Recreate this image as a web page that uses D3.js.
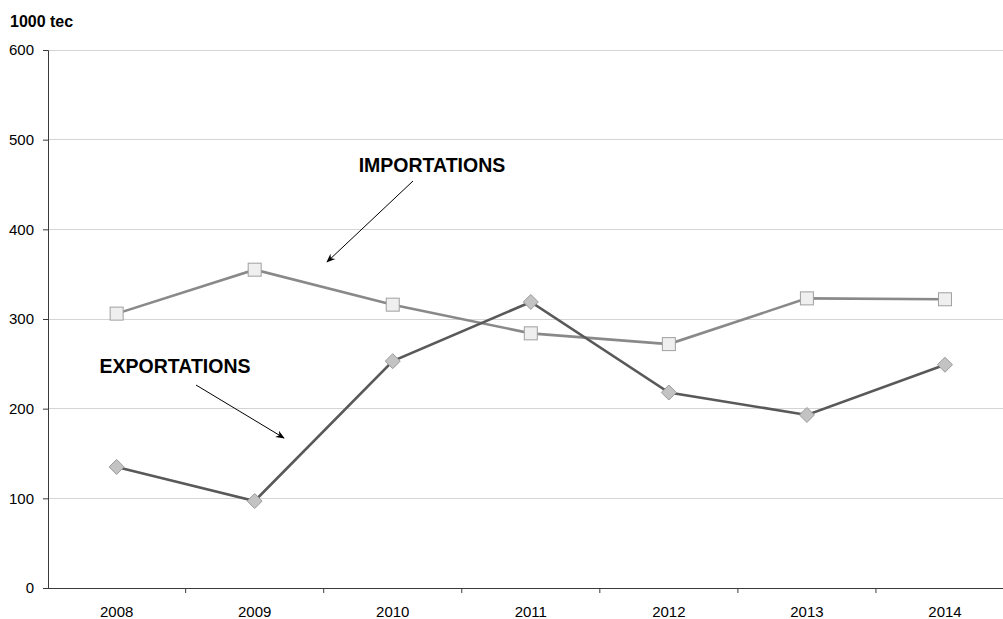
<!DOCTYPE html>
<html><head><meta charset="utf-8">
<script src="https://cdn.jsdelivr.net/npm/d3@7"></script>
<style>body{margin:0;background:#fff}svg{display:block;font-family:"Liberation Sans",Arial,sans-serif}</style>
</head><body><svg id="c" width="1003" height="619"></svg>
<script>
const years = ["2008","2009","2010","2011","2012","2013","2014"];
const importations = [306, 355, 316, 284, 272, 323, 322];
const exportations = [135, 97, 253, 319, 218, 193, 249];
const yTicks = [0, 100, 200, 300, 400, 500, 600];
const unitLabel = "1000 tec";
const importLabel = "IMPORTATIONS";
const exportLabel = "EXPORTATIONS";

const svg = d3.select("#c");
const x = d3.scaleBand().domain(years).range([47.6, 1014]).padding(0);
const y = d3.scaleLinear().domain([0, 600]).range([588, 50]);

// gridlines
svg.append("g").selectAll("line").data(yTicks.filter(d => d > 0)).join("line")
  .attr("x1", 48).attr("x2", 1003).attr("y1", d => y(d)).attr("y2", d => y(d))
  .attr("stroke", "#d4d4d4").attr("stroke-width", 1).attr("shape-rendering", "crispEdges");

// y axis
const ya = svg.append("g").attr("transform", "translate(48,0)")
  .call(d3.axisLeft(y).tickValues(yTicks).tickSize(5).tickPadding(9).tickFormat(d3.format("d")));
ya.select(".domain").attr("stroke", "#3a3a3a");
ya.selectAll(".tick line").attr("stroke", "#3a3a3a");
ya.selectAll("text").attr("font-size", "15px").attr("fill", "#000").attr("font-family", "Liberation Sans, Arial, sans-serif");

// x axis
const xa = svg.append("g").attr("transform", `translate(0,${y(0)})`)
  .call(d3.axisBottom(x).tickSize(0).tickPadding(18));
xa.select(".domain").attr("stroke", "#3a3a3a");
xa.selectAll("text").attr("font-size", "15px").attr("fill", "#000").attr("font-family", "Liberation Sans, Arial, sans-serif");
xa.selectAll("line.bound").data(years.slice(1)).join("line").attr("class", "bound")
  .attr("x1", d => x(d)).attr("x2", d => x(d)).attr("y1", 0).attr("y2", 5)
  .attr("stroke", "#3a3a3a");

const cx = d => x(d) + x.bandwidth() / 2;
const line = d3.line().x(d => cx(d[0])).y(d => y(d[1]));

// imports
const imp = years.map((yr, i) => [yr, importations[i]]);
svg.append("path").datum(imp).attr("d", line).attr("fill", "none")
  .attr("stroke", "#898989").attr("stroke-width", 2.6);
svg.append("g").selectAll("rect").data(imp).join("rect")
  .attr("x", d => cx(d[0]) - 6.5).attr("y", d => y(d[1]) - 6.5)
  .attr("width", 13).attr("height", 13)
  .attr("fill", "#efefef").attr("stroke", "#a0a0a0").attr("stroke-width", 1);

// exports
const exp = years.map((yr, i) => [yr, exportations[i]]);
svg.append("path").datum(exp).attr("d", line).attr("fill", "none")
  .attr("stroke", "#595959").attr("stroke-width", 2.6);
svg.append("g").selectAll("path.dm").data(exp).join("path").attr("class", "dm")
  .attr("d", d => { const px = cx(d[0]), py = y(d[1]), r = 7.5; return `M${px},${py-r}L${px+r},${py}L${px},${py+r}L${px-r},${py}Z`; })
  .attr("fill", "#c3c3c3").attr("stroke", "#9a9a9a").attr("stroke-width", 1);

// unit label
svg.append("text").attr("x", 10).attr("y", 27).attr("font-size", "16px").attr("font-weight", "bold").text(unitLabel);

// arrows
const defs = svg.append("defs");
defs.append("marker").attr("id", "ah").attr("viewBox", "0 0 10 10").attr("refX", 9).attr("refY", 5)
  .attr("markerWidth", 9).attr("markerHeight", 9).attr("markerUnits", "userSpaceOnUse").attr("orient", "auto")
  .append("path").attr("d", "M0,1 L10,5 L0,9 L3,5 Z").attr("fill", "#000");

svg.append("text").attr("x", 432).attr("y", 172).attr("text-anchor", "middle")
  .attr("font-size", "19.5px").attr("font-weight", "bold").text(importLabel);
svg.append("line").attr("x1", 413).attr("y1", 181).attr("x2", 327).attr("y2", 262)
  .attr("stroke", "#000").attr("stroke-width", 1).attr("marker-end", "url(#ah)");

svg.append("text").attr("x", 175).attr("y", 372.5).attr("text-anchor", "middle")
  .attr("font-size", "19.5px").attr("font-weight", "bold").text(exportLabel);
svg.append("line").attr("x1", 196).attr("y1", 385).attr("x2", 284).attr("y2", 438)
  .attr("stroke", "#000").attr("stroke-width", 1).attr("marker-end", "url(#ah)");
</script></body></html>
